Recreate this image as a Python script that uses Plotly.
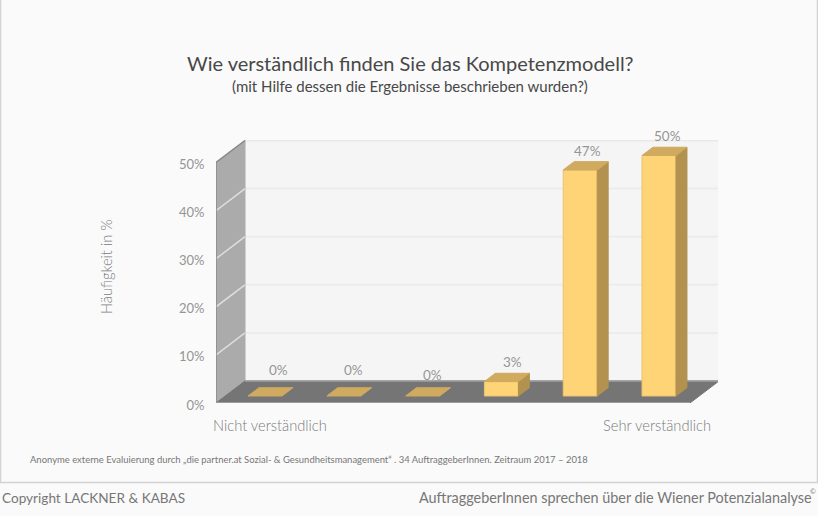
import plotly.graph_objects as go

# ---- data ----
categories = ["Nicht verständlich", "", "", "", "", "Sehr verständlich"]
values = [0, 0, 0, 3, 47, 50]
y_ticks = [0, 10, 20, 30, 40, 50]
y_tick_labels = ["0%", "10%", "20%", "30%", "40%", "50%"]
title = "Wie verständlich finden Sie das Kompetenzmodell?"
subtitle = "(mit Hilfe dessen die Ergebnisse beschrieben wurden?)"
y_title = "Häufigkeit in %"
note = "Anonyme externe Evaluierung durch „die partner.at Sozial- & Gesundheitsmanagement“ . 34 AuftraggeberInnen. Zeitraum 2017 – 2018"
footer_left = "Copyright LACKNER & KABAS"
footer_right = "AuftraggeberInnen sprechen über die Wiener Potenzialanalyse"

# ---- layout geometry (figure pixels) ----
W, H = 818, 516
L, R, T, B = 216, 718, 140, 403
X_UNIT = 78.8   # px per category
Y_UNIT = 4.81   # px per percent
X0 = 255.8      # px of category 0
x_range = [(L - X0) / X_UNIT, (R - X0) / X_UNIT]
y_range = [0, (B - T) / Y_UNIT]
DX = 29 / X_UNIT   # full floor depth, x
DY = 22 / Y_UNIT   # full floor depth, y
FLOOR_RIGHT = len(values) - 0.49
BAR_W = 34 / X_UNIT
BAR_D0, BAR_D1 = 0.318, 0.695
FONT = "Lato"
GREY = "#959595"

def paper_x(px): return (px - L) / (R - L)
def paper_y(py): return (B - py) / (B - T)

def proj(x, v, d):
    return x + d * DX, v + d * DY

fig = go.Figure()

def poly(points, fill, line=None, width=1):
    xs, ys = zip(*(points + points[:1]))
    fig.add_trace(go.Scatter(x=xs, y=ys, mode="lines", fill="toself", fillcolor=fill,
                             line=dict(color=line or fill, width=width),
                             hoverinfo="skip", showlegend=False))

def seg(points, color, width):
    xs, ys = zip(*points)
    fig.add_trace(go.Scatter(x=xs, y=ys, mode="lines", line=dict(color=color, width=width),
                             hoverinfo="skip", showlegend=False))

left, right, top = x_range[0], FLOOR_RIGHT, y_ticks[-1]

# back wall
poly([proj(left, 0, 1), proj(right, 0, 1), proj(right, top, 1), proj(left, top, 1)], "#f5f5f5")
seg([proj(left, top, 1), proj(right, top, 1)], "#e9e9e9", 2)
seg([proj(right, 0, 1), proj(right, top, 1)], "#adadad", 2)
for v in y_ticks[1:-1]:
    seg([proj(left, v, 1), proj(right, v, 1)], "#ececec", 2)

# side wall
poly([proj(left, 0, 0), proj(left, 0, 1), proj(left, top, 1), proj(left, top, 0)], "#ababab")
for v in y_ticks[1:-1]:
    seg([proj(left, v, 0), proj(left, v, 1)], "#dedede", 1.5)
seg([proj(left, 0, 0), proj(left, top, 0), proj(left, top, 1)], "#8a8a8a", 1.5)

# floor
poly([proj(left, 0, 0), proj(right, 0, 0), proj(right, 0, 1), proj(left, 0, 1)], "#757575")
seg([proj(left, 0, 0), proj(right, 0, 0)], "#a8a8a8", 1.5)
seg([proj(left, 0, 1), proj(right, 0, 1)], "#a0a0a0", 1.5)

# bars
for i, v in enumerate(values):
    a, b = i - BAR_W / 2, i + BAR_W / 2
    if v > 0:
        poly([proj(a, 0, BAR_D0), proj(b, 0, BAR_D0), proj(b, v, BAR_D0), proj(a, v, BAR_D0)],
             "#fed477", "#e9c273", 1)
        poly([proj(b, 0, BAR_D0), proj(b, 0, BAR_D1), proj(b, v, BAR_D1), proj(b, v, BAR_D0)],
             "#b3914f")
    poly([proj(a, v, BAR_D0), proj(b, v, BAR_D0), proj(b, v, BAR_D1), proj(a, v, BAR_D1)],
         "#cfaa5f")

annotations = []

def text(px, py, s, size, color=GREY, anchor="center", weight=400, family=FONT, angle=0):
    annotations.append(dict(x=paper_x(px), y=paper_y(py), xref="paper", yref="paper",
                            text=s, showarrow=False, xanchor=anchor, yanchor="middle",
                            textangle=angle,
                            font=dict(family=family, size=size, color=color, weight=weight)))

# value labels, anchored on the bar tops
label_dx = [3, -1, -1, 0, -4, -2]
label_dy = [18, 18, 13, 11, 11, 11]
for i, v in enumerate(values):
    x, y = proj(i, v, BAR_D1)
    annotations.append(dict(x=x, y=y, text=f"{v}%", showarrow=False,
                            xshift=label_dx[i], yshift=label_dy[i],
                            font=dict(family=FONT, size=13.5, color=GREY, weight=400)))

text(410, 63, title, 20, "#484848")
text(410, 86, subtitle, 15, "#484848")
text(270, 425, categories[0], 14.7, "#7a7a7a", weight=300)
text(657, 425, categories[-1], 14.7, "#7a7a7a", weight=300)
text(106, 267, y_title, 14.7, "#7a7a7a", weight=300, angle=-90)
text(28, 459, note, 9.45, "#777777", "left")
text(0, 498, footer_left, 13.6, "#777777", "left")
text(417, 497, footer_right, 14.4, "#777777", "left")
text(818, 491, "©", 7, "#777777", "right")

fig.update_layout(
    width=W, height=H, autosize=False,
    margin=dict(l=L, r=W - R, t=T, b=H - B, pad=0),
    paper_bgcolor="#fafafa", plot_bgcolor="rgba(0,0,0,0)",
    showlegend=False,
    xaxis=dict(range=x_range, visible=False, fixedrange=True),
    yaxis=dict(range=y_range, tickvals=y_ticks, ticktext=y_tick_labels, showgrid=False,
               zeroline=False, showline=False, ticks="outside", ticklen=3, tickcolor="rgba(0,0,0,0)",
               ticklabelstandoff=5, ticklabelshift=2, fixedrange=True,
               tickfont=dict(family=FONT, size=13, color=GREY, weight=400)),
    annotations=annotations,
    shapes=[dict(type="rect", xref="paper", yref="paper", layer="below",
                 x0=paper_x(0.5), x1=paper_x(817.5), y0=paper_y(482.5), y1=paper_y(-1),
                 line=dict(color="#d2d2d2", width=1.5), fillcolor="#fafafa")],
)
fig.write_html("out.html", config={"displayModeBar": False},
               post_script="document.body.style.margin='0';document.documentElement.style.background='#fafafa';")
